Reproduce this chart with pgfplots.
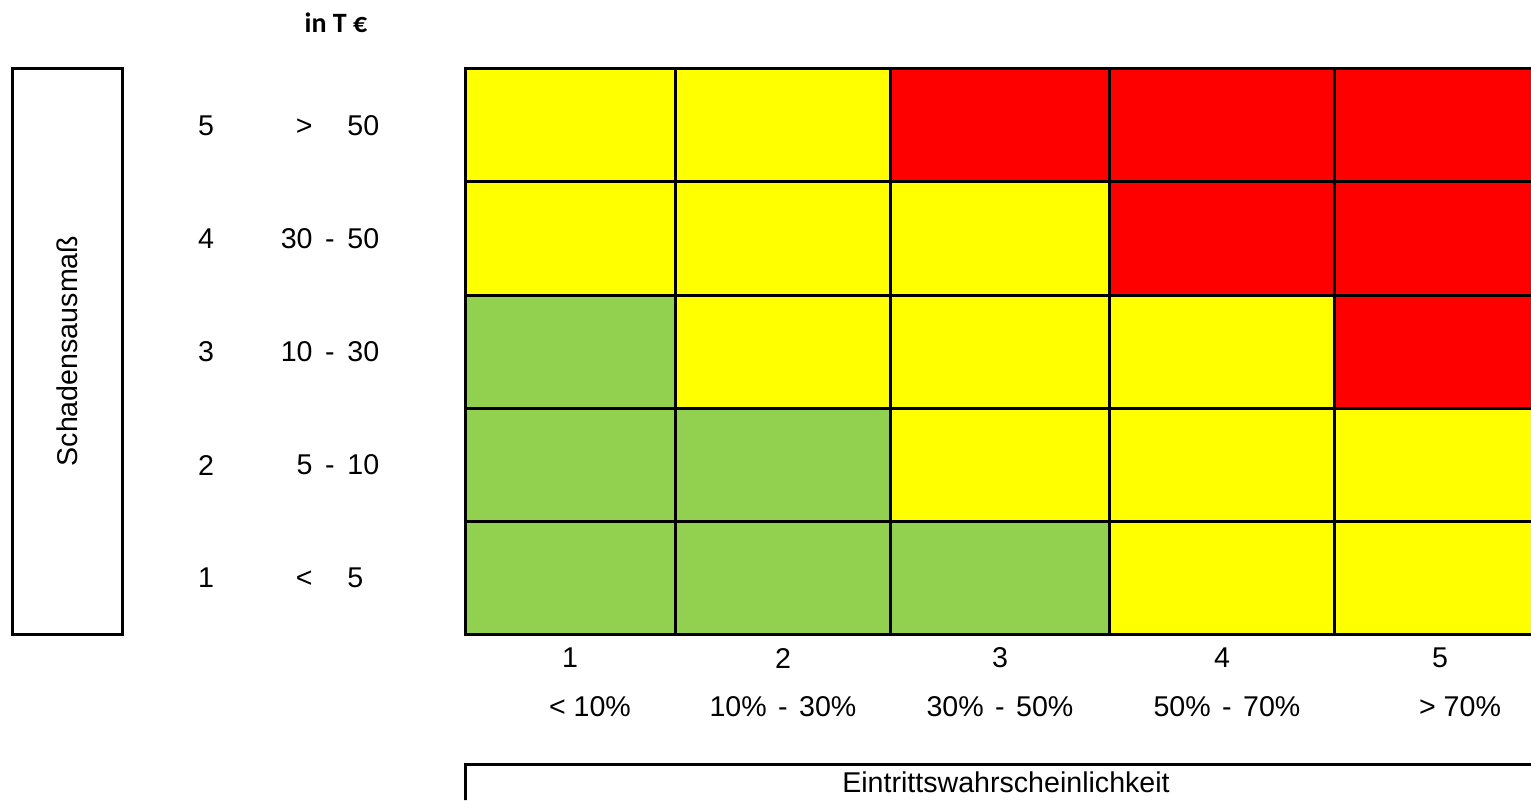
\documentclass[border=0pt]{standalone}
\usepackage{pgfplots}
\pgfplotsset{compat=1.18}
\usepackage{pgfplotstable}
\usepackage{fontspec}
\setmainfont{Liberation Sans}
\newfontfamily\calibri{Carlito}

% cell boundaries (pixel units, y measured from the top) and risk level of each cell
% level: 0 = green, 1 = yellow, 2 = red (last row / column are closing vertices)
\pgfplotstableread{
x y c
465 68 1
675 68 1
890 68 2
1109 68 2
1334 68 2
1545 68 2
465 181 1
675 181 1
890 181 1
1109 181 2
1334 181 2
1545 181 2
465 295 0
675 295 1
890 295 1
1109 295 1
1334 295 2
1545 295 2
465 408 0
675 408 0
890 408 1
1109 408 1
1334 408 1
1545 408 1
465 521 0
675 521 0
890 521 0
1109 521 1
1334 521 1
1545 521 1
465 634 0
675 634 0
890 634 0
1109 634 1
1334 634 1
1545 634 1
}\cells

\begin{document}
\begin{tikzpicture}[txt/.style={font=\fontsize{14.3}{17}\selectfont, inner sep=0pt}]
\begin{axis}[
  view={0}{90},
  scale only axis, width=765.5pt, height=400pt,
  xmin=0, xmax=1531, ymin=0, ymax=800, zmin=-1, zmax=1,
  y dir=reverse,
  hide axis,
  colormap={risk}{rgb255=(146,208,80) rgb255=(255,255,0) rgb255=(255,0,0)},
  point meta min=0, point meta max=2,
]
\addplot3[surf, shader=flat corner, mesh/cols=6, point meta=explicit]
  table[x=x, y=y, z expr=0, meta=c] {\cells};

% grid lines
\addplot3[black, line width=1.5pt, line cap=rect, unbounded coords=jump] coordinates {
(465,68,0) (465,634,0) (465,nan,0)
(675,68,0) (675,634,0) (675,nan,0)
(890,68,0) (890,634,0) (890,nan,0)
(1109,68,0) (1109,634,0) (1109,nan,0)
(1334,68,0) (1334,634,0) (1334,nan,0)
(465,68,0) (1545,68,0) (465,nan,0)
(465,181,0) (1545,181,0) (465,nan,0)
(465,295,0) (1545,295,0) (465,nan,0)
(465,408,0) (1545,408,0) (465,nan,0)
(465,521,0) (1545,521,0) (465,nan,0)
(465,634,0) (1545,634,0)
};

% left label box
\addplot3[black, line width=1.5pt, line cap=rect] coordinates {
(12,68,0) (122,68,0) (122,634,0) (12,634,0) (12,68,0)
};
% bottom label box
\addplot3[black, line width=1.5pt, line cap=rect] coordinates {
(1560,764,0) (465,764,0) (465,830,0)
};

\node[font=\calibri\bfseries\fontsize{14}{17}\selectfont, inner sep=0pt] at (axis cs:336,23,0) {in T €};
\node[txt, rotate=90] at (axis cs:67,351,0) {Schadensausmaß};

% row labels
\node[txt] at (axis cs:206,126,0) {5};
\node[txt] at (axis cs:206,239,0) {4};
\node[txt] at (axis cs:206,352,0) {3};
\node[txt] at (axis cs:206,465,0) {2};
\node[txt] at (axis cs:206,578,0) {1};

\node[txt, anchor=east] at (axis cs:313,126,0) {\vphantom{0}>};
\node[txt, anchor=west] at (axis cs:347,126,0) {50};
\node[txt, anchor=east] at (axis cs:313,239,0) {30};
\node[txt] at (axis cs:330,239,0) {\vphantom{0}-};
\node[txt, anchor=west] at (axis cs:347,239,0) {50};
\node[txt, anchor=east] at (axis cs:313,352,0) {10};
\node[txt] at (axis cs:330,352,0) {\vphantom{0}-};
\node[txt, anchor=west] at (axis cs:347,352,0) {30};
\node[txt, anchor=east] at (axis cs:313,465,0) {5};
\node[txt] at (axis cs:330,465,0) {\vphantom{0}-};
\node[txt, anchor=west] at (axis cs:347,465,0) {10};
\node[txt, anchor=east] at (axis cs:313,578,0) {\vphantom{0}<};
\node[txt, anchor=west] at (axis cs:347,578,0) {5};

% column labels
\node[txt] at (axis cs:570,658,0) {1};
\node[txt] at (axis cs:783,658,0) {2};
\node[txt] at (axis cs:1000,658,0) {3};
\node[txt] at (axis cs:1222,658,0) {4};
\node[txt] at (axis cs:1440,658,0) {5};

\node[txt] at (axis cs:590,707,0) {< 10\%};
\node[txt] at (axis cs:783,707,0) {10\%\hspace{0.4em}-\hspace{0.4em}30\%};
\node[txt] at (axis cs:1000,707,0) {30\%\hspace{0.4em}-\hspace{0.4em}50\%};
\node[txt] at (axis cs:1227,707,0) {50\%\hspace{0.4em}-\hspace{0.4em}70\%};
\node[txt] at (axis cs:1460,707,0) {> 70\%};

\node[txt] at (axis cs:1006,782,0) {Eintrittswahrscheinlichkeit};

\coordinate (bl) at (axis cs:0,800,0);
\coordinate (tr) at (axis cs:1531,0,0);
\end{axis}
\pgfresetboundingbox
\path[use as bounding box] (bl) rectangle (tr);
\end{tikzpicture}
\end{document}
